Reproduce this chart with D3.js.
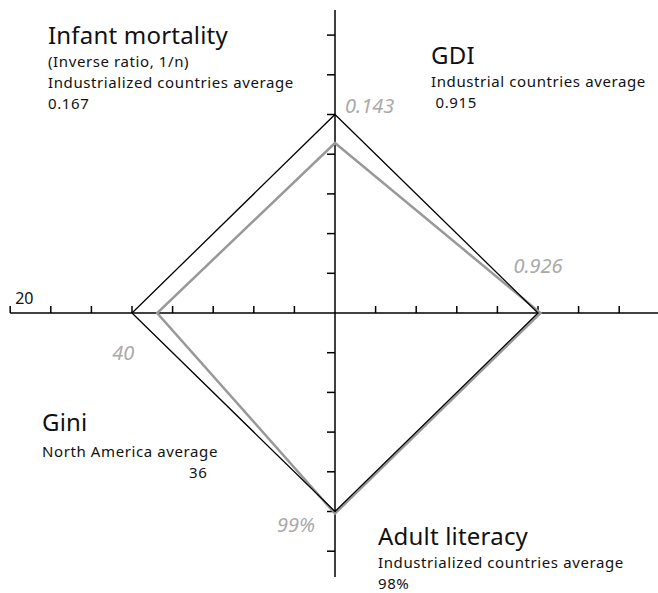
<!DOCTYPE html>
<html>
<head>
<meta charset="utf-8">
<script src="https://cdn.jsdelivr.net/npm/d3@7"></script>
<style>
  body { margin: 0; background: #fff; }
  svg text { font-family: "Noto Sans", "DejaVu Sans", sans-serif; fill: #111; }
</style>
</head>
<body>
<div id="chart"></div>
<script>
var width = 658, height = 593;
var cx = 335, cy = 313,
    stepX = 40.6, stepY = 39.7;

// the four indicators, clockwise from the top
var indicators = ["Infant mortality", "GDI", "Adult literacy", "Gini"];
// reference averages (black diamond)
var averages = [0.167, 0.915, 98, 36];
// country values (grey diamond)
var country = [0.143, 0.926, 99, 40];
var countryLabels = ["0.143", "0.926", "99%", "40"];

var svg = d3.select("#chart").append("svg")
    .attr("width", width)
    .attr("height", height);

// one scale per axis
var yTop = d3.scaleLinear().domain([0, 0.167]).range([cy, cy - 5 * stepY]);
var xRight = d3.scaleLinear().domain([0, 0.915]).range([cx, cx + 5 * stepX]);
var yBottom = d3.scaleLinear().domain([0, 98]).range([cy, cy + 5 * stepY]);
var xLeft = d3.scaleLinear().domain([20, 36, 40]).range([cx - 8 * stepX, cx - 5 * stepX, cx - 4.38 * stepX]);

function diamond(v) {
    return [
        [cx, yTop(v[0])],
        [xRight(v[1]), cy],
        [cx, yBottom(v[2])],
        [xLeft(v[3]), cy]
    ];
}

// axes
var axes = svg.append("g").attr("stroke", "#000").attr("stroke-width", 1.5);
axes.append("line").attr("x1", cx - 8 * stepX).attr("x2", width + 5).attr("y1", cy).attr("y2", cy);
axes.append("line").attr("x1", cx).attr("x2", cx).attr("y1", 10).attr("y2", 577);

var xTicks = d3.range(-8, 9).filter(function(k) { return k !== 0; });
axes.selectAll(".xt").data(xTicks).enter().append("line")
    .attr("x1", function(k) { return cx + k * stepX; })
    .attr("x2", function(k) { return cx + k * stepX; })
    .attr("y1", cy).attr("y2", cy - 7);

var yTicks = d3.range(-7, 7).filter(function(k) { return k !== 0; });
axes.selectAll(".yt").data(yTicks).enter().append("line")
    .attr("x1", cx).attr("x2", cx - 8)
    .attr("y1", function(k) { return cy + k * stepY; })
    .attr("y2", function(k) { return cy + k * stepY; });

var line = d3.line().curve(d3.curveLinearClosed);

svg.append("path")
    .attr("d", line(diamond(country)))
    .attr("fill", "none")
    .attr("stroke", "#999")
    .attr("stroke-width", 2.5);

svg.append("path")
    .attr("d", line(diamond(averages)))
    .attr("fill", "none")
    .attr("stroke", "#000")
    .attr("stroke-width", 1.3);

// axis end label
svg.append("text")
    .attr("x", xLeft(20) + 5).attr("y", cy - 9)
    .style("font-size", "16px")
    .text("20");

// grey value labels
var pts = diamond(country);
var greyPos = [
    [pts[0][0] + 10, yTop(averages[0]) - 2, "start"],
    [xRight(country[1]) - 27, cy - 40, "start"],
    [cx - 20, yBottom(country[2]) + 18, "end"],
    [xLeft(country[3]) - 45, cy + 47, "start"]
];
svg.selectAll(".grey").data(countryLabels).enter().append("text")
    .attr("x", function(d, i) { return greyPos[i][0]; })
    .attr("y", function(d, i) { return greyPos[i][1]; })
    .attr("text-anchor", function(d, i) { return greyPos[i][2]; })
    .style("font-size", "20px")
    .style("font-style", "italic")
    .style("fill", "#aaa")
    .text(function(d) { return d; });

// indicator blocks: x of each line and baselines
var blocks = [
    {x: [48, 48, 48, 48], y: [44, 67, 87.5, 108.5],
     lines: [indicators[0], "(Inverse ratio, 1/n)", "Industrialized countries average", "0.167"]},
    {x: [431, 431, 431], y: [64, 87, 108],
     lines: [indicators[1], "Industrial countries average", "\u00a00.915"]},
    {x: [378, 378, 378], y: [545, 568, 589],
     lines: [indicators[2], "Industrialized countries average", "98%"]},
    {x: [42, 42, 189], y: [431, 456.5, 477.5],
     lines: [indicators[3], "North America average", "36"]}
];

blocks.forEach(function(b) {
    svg.append("g").selectAll("text").data(b.lines).enter().append("text")
        .attr("x", function(d, i) { return b.x[i]; })
        .attr("y", function(d, i) { return b.y[i]; })
        .style("font-size", function(d, i) { return i === 0 ? "24px" : "15px"; })
        .style("letter-spacing", function(d, i) { return i === 0 ? "0.2px" : "0.6px"; })
        .text(function(d) { return d; });
});
</script>
</body>
</html>
